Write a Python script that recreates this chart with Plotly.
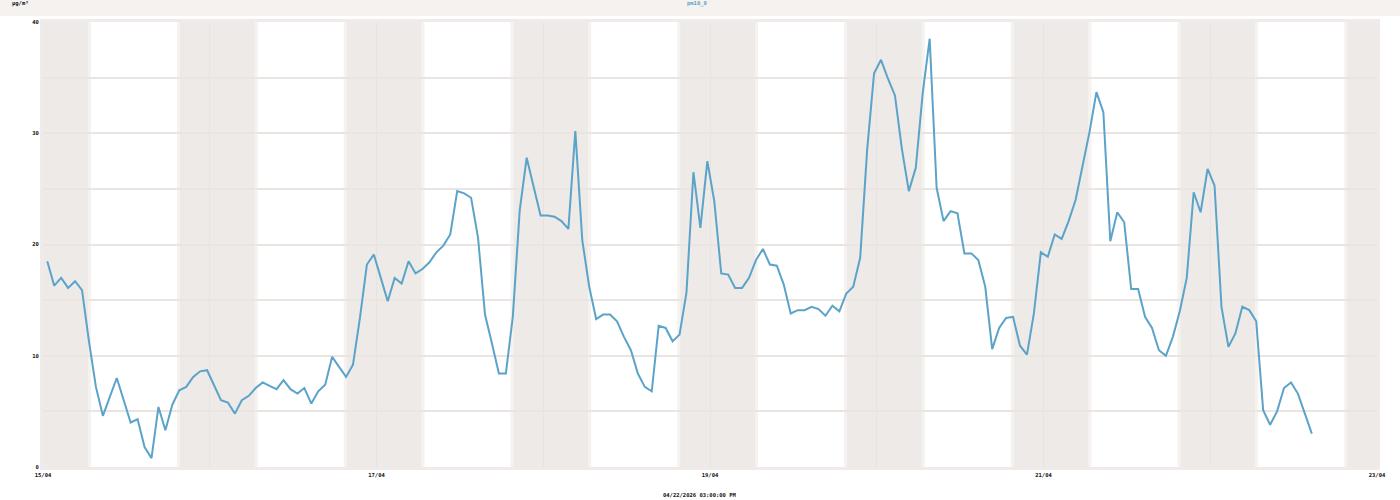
import plotly.graph_objects as go
from datetime import datetime, timedelta

# ---- data ----
series_name = "pm10_0"
unit_label = "µg/m³"
timestamp_label = "04/22/2026 03:00:00 PM"
first_reading = "2026-04-15 00:37"
pm10_0 = [
    18.5, 16.3, 17.0, 16.1, 16.7, 15.9, 11.3, 7.2, 4.6, 6.3,
    8.0, 6.0, 4.0, 4.3, 1.8, 0.8, 5.4, 3.3, 5.6, 6.9,
    7.2, 8.1, 8.6, 8.7, 7.4, 6.0, 5.8, 4.8, 6.0, 6.4,
    7.1, 7.6, 7.3, 7.0, 7.8, 7.0, 6.6, 7.1, 5.7, 6.8,
    7.4, 9.9, 9.0, 8.1, 9.2, 13.4, 18.2, 19.1, 17.0, 14.9,
    17.0, 16.5, 18.5, 17.4, 17.8, 18.4, 19.3, 19.9, 20.9, 24.8,
    24.6, 24.2, 20.6, 13.7, 11.1, 8.4, 8.4, 13.5, 23.1, 27.8,
    25.2, 22.6, 22.6, 22.5, 22.1, 21.4, 30.2, 20.4, 16.2, 13.3,
    13.7, 13.7, 13.1, 11.7, 10.5, 8.4, 7.2, 6.8, 12.7, 12.5,
    11.3, 11.9, 15.7, 26.5, 21.5, 27.5, 23.9, 17.4, 17.3, 16.1,
    16.1, 17.0, 18.6, 19.6, 18.2, 18.1, 16.4, 13.8, 14.1, 14.1,
    14.4, 14.2, 13.6, 14.5, 14.0, 15.6, 16.2, 18.8, 28.5, 35.4,
    36.6, 34.9, 33.4, 28.6, 24.8, 26.9, 33.6, 38.5, 25.1, 22.1,
    23.0, 22.8, 19.2, 19.2, 18.6, 16.2, 10.6, 12.5, 13.4, 13.5,
    10.9, 10.1, 13.8, 19.3, 18.9, 20.9, 20.5, 22.1, 24.0, 26.9,
    30.1, 33.7, 31.9, 20.3, 22.9, 22.0, 16.0, 16.0, 13.5, 12.5,
    10.5, 10.0, 11.7, 14.0, 17.0, 24.7, 22.9, 26.8, 25.3, 14.4,
    10.8, 12.0, 14.4, 14.1, 13.1, 5.1, 3.8, 5.0, 7.1, 7.6,
    6.6, 4.8, 3.0,
]
x_range = ["2026-04-15 00:00", "2026-04-23 00:00"]
day_ticks = ["2026-04-%02d" % d for d in range(15, 24)]
day_labels = ["15/04", "", "17/04", "", "19/04", "", "21/04", "", "23/04"]
y_ticks = [0, 5, 10, 15, 20, 25, 30, 35, 40]
y_labels = ["0", "", "10", "", "20", "", "30", "", "40"]
sunrise = "06:29"
sunset = "19:42"

# ---- styling ----
LINE = "#5ba3c9"
NIGHT = "#edeae7"
TWILIGHT = "#f5f2f0"
GRID = "#ebe5e2"
FRAME = "#f0ebe8"
TOPBAR = "#f5f2ef"
TXT = "#111111"
FONT = dict(family="DejaVu Sans Mono", size=5.5, color=TXT, weight="bold")

t0 = datetime.strptime(first_reading, "%Y-%m-%d %H:%M")
times = [t0 + timedelta(hours=i) for i in range(len(pm10_0))]

fig = go.Figure()
fig.add_trace(go.Scatter(x=times, y=pm10_0, mode="lines",
                         line=dict(color=LINE, width=2), showlegend=False,
                         hoverinfo="x+y"))

xmin = datetime.strptime(x_range[0], "%Y-%m-%d %H:%M")
xmax = datetime.strptime(x_range[1], "%Y-%m-%d %H:%M")
sr_h, sr_m = map(int, sunrise.split(":"))
ss_h, ss_m = map(int, sunset.split(":"))
shapes = []
tw = timedelta(minutes=25)
for d in range(-1, 9):
    day = xmin + timedelta(days=d)
    ns = day + timedelta(hours=ss_h, minutes=ss_m)
    ne = day + timedelta(days=1, hours=sr_h, minutes=sr_m)
    for a, b, col in [(ns - tw, ns, TWILIGHT), (ne, ne + tw, TWILIGHT), (ns, ne, NIGHT)]:
        a2, b2 = max(a, xmin), min(b, xmax)
        if a2 < b2:
            shapes.append(dict(type="rect", xref="x", yref="y", x0=a2, x1=b2,
                               y0=0, y1=40, fillcolor=col, line_width=0,
                               layer="below"))

# top bar
shapes.append(dict(type="rect", xref="paper", yref="paper", x0=-0.05, x1=1.05,
                   y0=(467 - 16) / 445, y1=(467 + 2) / 445 + 0.06,
                   fillcolor=TOPBAR, line_width=0, layer="above"))

fig.update_layout(
    width=1400, height=500,
    margin=dict(l=43, r=23, t=22, b=33),
    paper_bgcolor="white", plot_bgcolor="white",
    shapes=shapes,
    font=FONT,
    xaxis=dict(range=[xmin, xmax], tickvals=day_ticks, ticktext=day_labels,
               showgrid=True, gridcolor="#e8e3e0", gridwidth=1,
               showline=True, linecolor=FRAME, linewidth=3, mirror=True,
               ticks="", zeroline=False, tickfont=FONT),
    yaxis=dict(range=[0, 40], tickvals=y_ticks, ticktext=y_labels,
               showgrid=True, gridcolor=GRID, gridwidth=1.5,
               showline=True, linecolor=FRAME, linewidth=3, mirror=True,
               ticks="", zeroline=False, tickfont=FONT),
    annotations=[
        dict(text=series_name, xref="paper", yref="paper",
             x=(697 - 43) / 1334, y=(467 - 3.5) / 445, showarrow=False,
             xanchor="center", yanchor="middle",
             font=dict(family="DejaVu Sans Mono", size=5.5, color=LINE, weight="bold")),
        dict(text=unit_label, xref="paper", yref="paper",
             x=(10 - 43) / 1334, y=(467 - 3.5) / 445, showarrow=False,
             xanchor="left", yanchor="middle", font=FONT),
        dict(text=timestamp_label, xref="paper", yref="paper",
             x=(700 - 43) / 1334, y=(467 - 495.5) / 445, showarrow=False,
             xanchor="center", yanchor="middle", font=FONT),
    ],
)

fig.write_html("out.html", config={"displayModeBar": False},
               post_script="document.body.style.margin='0';document.body.style.overflow='hidden';")
